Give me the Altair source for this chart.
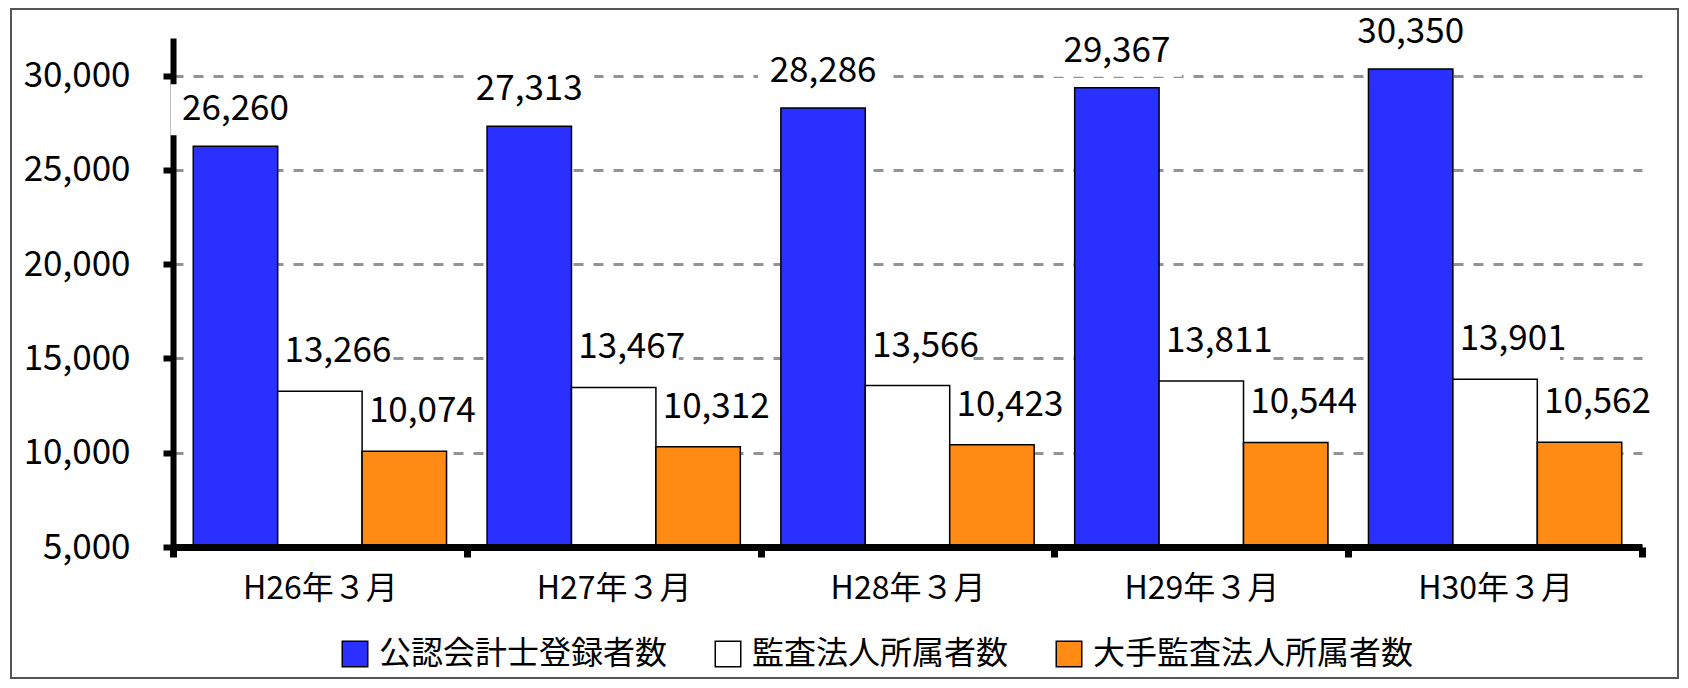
import altair as alt
import pandas as pd

categories = ["H26年３月", "H27年３月", "H28年３月", "H29年３月", "H30年３月"]
series = ["公認会計士登録者数", "監査法人所属者数", "大手監査法人所属者数"]
cpa = [26260, 27313, 28286, 29367, 30350]
audit = [13266, 13467, 13566, 13811, 13901]
big = [10074, 10312, 10423, 10544, 10562]
y_ticks = [5000, 10000, 15000, 20000, 25000, 30000]
colors = ["#2A30FF", "#FFFFFF", "#FF8A14"]

rows = []
for i, c in enumerate(categories):
    for s, vals in zip(series, [cpa, audit, big]):
        rows.append({"cat": c, "series": s, "value": vals[i]})
df = pd.DataFrame(rows)

NUM_FONT = "Liberation Sans Narrow, Arial Narrow, Noto Sans CJK JP, sans-serif"
CJK_FONT = "Noto Sans CJK JP"

x = alt.X(
    "cat:N", sort=categories, title=None,
    scale=alt.Scale(paddingInner=0, paddingOuter=0),
    axis=alt.Axis(labelAngle=0, tickBand="extent", domainWidth=7, domainColor="black",
                  tickColor="black", tickWidth=7, tickSize=10, labelFont=NUM_FONT,
                  labelFontSize=32, labelPadding=16, labelColor="black", zindex=1, grid=False),
)
xo = alt.XOffset("series:N", sort=series, scale=alt.Scale(paddingInner=0, paddingOuter=0.24))
y_main = alt.Y(
    "value:Q",
    scale=alt.Scale(domain=[5000, 32000], zero=False, nice=False),
    axis=alt.Axis(values=y_ticks, format=",", labelExpr="format(datum.value, ',')", title=None,
                  domainWidth=6, domainColor="black",
                  tickSize=10, tickWidth=6, tickColor="black", labelFontSize=35, labelFont=NUM_FONT,
                  labelPadding=33, labelColor="black", gridDash=[10, 10], gridColor="#939393",
                  gridWidth=3, zindex=0),
)

color = alt.Color(
    "series:N", sort=series,
    scale=alt.Scale(domain=series, range=colors),
    legend=alt.Legend(title=None, orient="none", legendX=166, legendY=600, direction="horizontal",
                      symbolType="square", symbolSize=650, symbolStrokeColor="black",
                      symbolStrokeWidth=1.5, labelFont=CJK_FONT, labelFontSize=32, labelColor="black",
                      labelOffset=8, columnPadding=44, labelLimit=500, symbolOpacity=1),
)

base = alt.Chart(df)

frame = alt.Chart(alt.Data(values=[{"a": 1}])).mark_rect(
    fill="white", fillOpacity=0, stroke="#555555", strokeWidth=2
).encode(x=alt.value(-162), x2=alt.value(1505), y=alt.value(-29), y2=alt.value(640))

boxes_a = base.transform_filter(alt.datum.series == series[0]).mark_bar(
    color="white", width=130, yOffset=-11, y2Offset=-62
).encode(x=x, xOffset=xo, y=y_main, y2="value:Q")
boxes_b = base.transform_filter(alt.datum.series != series[0]).mark_bar(
    color="white", width=130, yOffset=-11, y2Offset=-66, xOffset=18
).encode(x=x, xOffset=xo, y=y_main, y2="value:Q")

bars = base.mark_bar(stroke="black", strokeWidth=1.5).encode(
    x=x, xOffset=xo, y=y_main, y2=alt.datum(5000), color=color
)

text_a = base.transform_filter(alt.datum.series == series[0]).mark_text(
    font=NUM_FONT, fontSize=35, baseline="alphabetic", dy=-26, color="black"
).encode(x=x, xOffset=xo, y=y_main, text=alt.Text("value:Q", format=","))
text_b = base.transform_filter(alt.datum.series != series[0]).mark_text(
    font=NUM_FONT, fontSize=35, baseline="alphabetic", dy=-29, dx=18, color="black"
).encode(x=x, xOffset=xo, y=y_main, text=alt.Text("value:Q", format=","))

chart = alt.layer(boxes_a, boxes_b, bars, text_a, text_b, frame).properties(
    width=1469, height=509,
    padding={"left": 165, "top": 30, "right": 38, "bottom": 133},
    autosize=alt.AutoSizeParams(type="none"),
).configure_view(stroke="transparent")

chart.save("out.html", embed_options={"renderer": "svg", "actions": False})
